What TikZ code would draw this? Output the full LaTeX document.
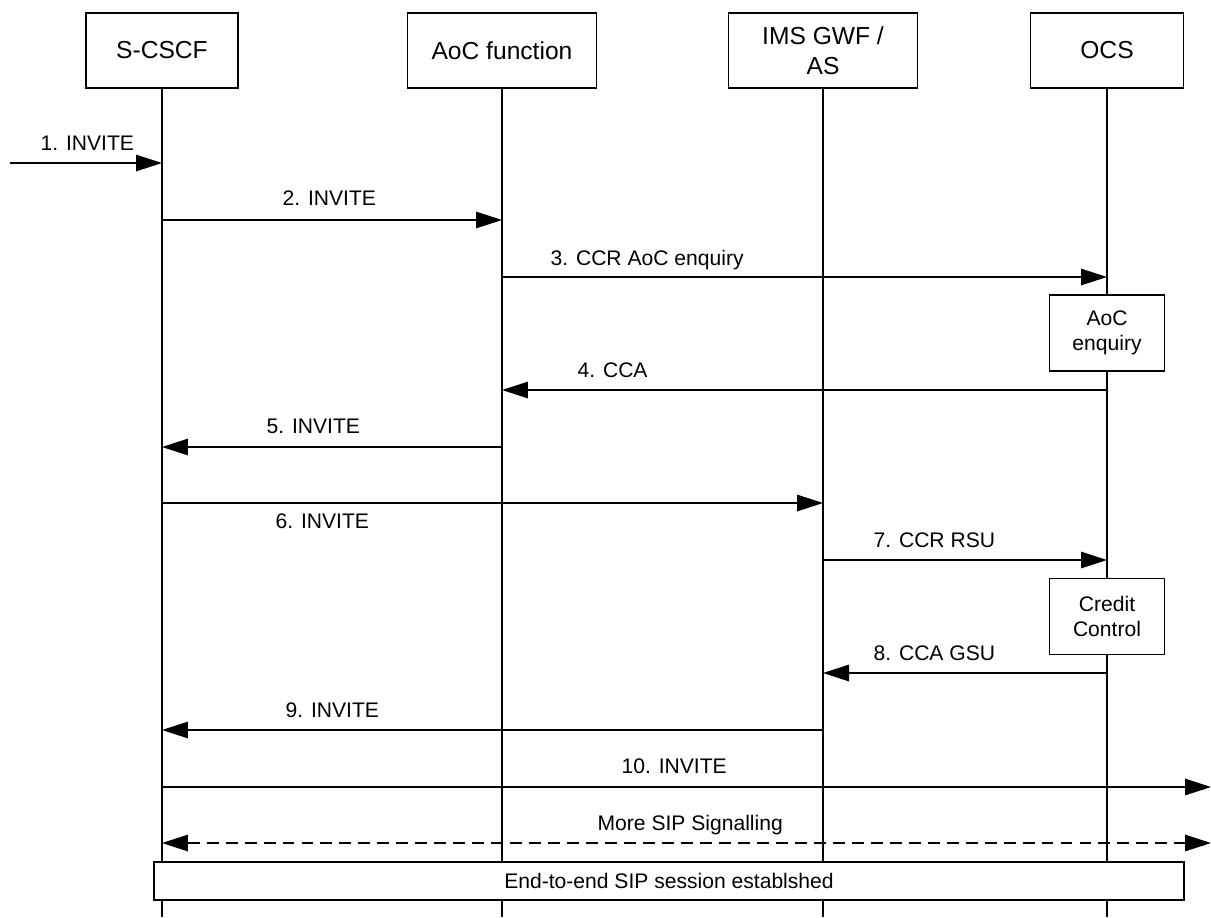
\documentclass[tikz,border=0pt]{standalone}
\usepackage{fontspec}
\setmainfont{Liberation Sans}
\usepackage{tikz}
\usetikzlibrary{shapes,arrows.meta,calc}
\tikzstyle{entity} = [rectangle, draw, fill=white, minimum height=1.5cm, align=center, font=\fontsize{14}{16.8}\selectfont]
\tikzstyle{proc} = [rectangle, draw, fill=white, minimum width=2.3cm, minimum height=1.52cm, align=center]
\tikzstyle{band} = [rectangle, draw, fill=white, minimum width=20.6cm, minimum height=0.76cm]
\tikzstyle{msg} = [inner sep=0pt, anchor=base west]
\tikzstyle{arrow} = [draw, -{Triangle[length=0.52cm, width=0.33cm]}]
\tikzstyle{twoway} = [draw, dashed, dash pattern=on 6.8pt off 4pt, {Triangle[length=0.52cm, width=0.33cm]}-{Triangle[length=0.52cm, width=0.33cm]}]

\begin{document}
\begin{tikzpicture}[x=0.02cm, y=-0.02cm, line width=0.75pt, font=\fontsize{12}{14.4}\selectfont]
      \pgfmathsetmacro{\xa}{162}
      \pgfmathsetmacro{\xb}{502}
      \pgfmathsetmacro{\xc}{823}
      \pgfmathsetmacro{\xd}{1107}
      \pgfmathsetmacro{\yh}{50.5}
      \useasboundingbox (0,0) rectangle (1211,917);
      \coordinate (bottom) at (0,917);
      % lifelines first, boxes are filled over them
      \path (\xa, \yh) coordinate (la) (\xb, \yh) coordinate (lb) (\xc, \yh) coordinate (lc) (\xd, \yh) coordinate (ld);
      \draw (la) -- (la |- bottom);
      \draw (lb) -- (lb |- bottom);
      \draw (lc) -- (lc |- bottom);
      \draw (ld) -- (ld |- bottom);
      \node [entity, minimum width=3.04cm] at (\xa, \yh) (scscf) {S-CSCF};
      \node [entity, minimum width=3.78cm] at (\xb, \yh) (aoc) {AoC function};
      \node [entity, minimum width=3.78cm] at (\xc, \yh) (gwf) {IMS GWF /\\AS};
      \node [entity, minimum width=3.06cm] at (\xd, \yh) (ocs) {OCS};
      \node [proc] at (\xd, 333) (enq) {AoC\\enquiry};
      \node [proc] at (\xd, 616.5) (cc) {Credit\\Control};
      \node [band] at (669, 881) (e2e) {End-to-end SIP session establshed};
      % message rows
      \coordinate (in1) at (10, 163);
      \coordinate (y2) at (0, 220);
      \coordinate (y3) at (0, 277);
      \coordinate (y4) at (0, 390);
      \coordinate (y5) at (0, 447);
      \coordinate (y6) at (0, 503);
      \coordinate (y7) at (0, 560);
      \coordinate (y8) at (0, 673);
      \coordinate (y9) at (0, 730);
      \coordinate (out10) at (1211, 787);
      \coordinate (out11) at (1211, 843);
      \path [arrow] (in1) -- (scscf |- in1);
      \path [arrow] (scscf |- y2) -- (aoc |- y2);
      \path [arrow] (aoc |- y3) -- (ocs |- y3);
      \path [arrow] (ocs |- y4) -- (aoc |- y4);
      \path [arrow] (aoc |- y5) -- (scscf |- y5);
      \path [arrow] (scscf |- y6) -- (gwf |- y6);
      \path [arrow] (gwf |- y7) -- (ocs |- y7);
      \path [arrow] (ocs |- y8) -- (gwf |- y8);
      \path [arrow] (gwf |- y9) -- (scscf |- y9);
      \path [arrow] (scscf |- out10) -- (out10);
      \path [twoway] (scscf |- out11) -- (out11);
      \node [msg] at (40, 150) (l1) {1. INVITE};
      \node [msg] at (282, 205) (l2) {2. INVITE};
      \node [msg] at (550, 265) (l3) {3. CCR AoC enquiry};
      \node [msg] at (577, 377) (l4) {4. CCA};
      \node [msg] at (266, 433) (l5) {5. INVITE};
      \node [msg] at (275, 528) (l6) {6. INVITE};
      \node [msg] at (873, 547) (l7) {7. CCR RSU};
      \node [msg] at (873, 660) (l8) {8. CCA GSU};
      \node [msg] at (285, 717) (l9) {9. INVITE};
      \node [msg] at (621, 773) (l10) {10. INVITE};
      \node [msg] at (597, 830) (l11) {More SIP Signalling};
    \end{tikzpicture}
\end{document}
